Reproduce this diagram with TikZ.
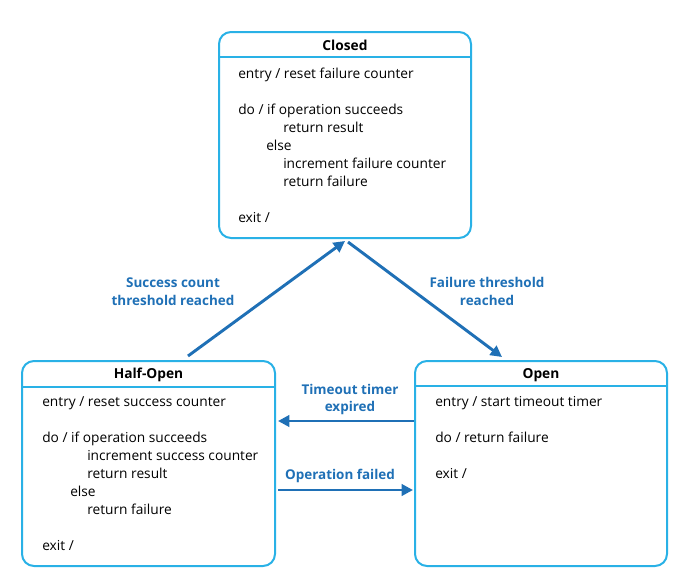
\documentclass[tikz,border=0pt]{standalone}
\usepackage{fontspec}
\setmainfont{Open Sans}
\usetikzlibrary{arrows.meta,calc}
\definecolor{boxc}{RGB}{41,177,230}
\definecolor{arrc}{RGB}{31,112,182}
\begin{document}
\begin{tikzpicture}[x=0.75pt,y=-0.75pt,
 state/.style={draw=boxc,line width=1.5pt,rounded corners=9pt,inner sep=0pt},
 hdr/.style={draw=boxc,line width=1.5pt},
 body/.style={anchor=north west,align=left,inner sep=0pt,font=\fontsize{10.3}{13.5}\selectfont},
 ttl/.style={font=\fontsize{10.3}{12}\selectfont\bfseries,inner sep=0pt},
 trans/.style={draw=arrc,line width=2.2pt,-{Triangle[length=8.5pt,width=8.5pt]}},
 lbl/.style={text=arrc,font=\fontsize{10.1}{13.2}\selectfont\bfseries,align=center,inner sep=0pt}]
\useasboundingbox (0,0) rectangle (683,576);

% states
\node[state,minimum width=189pt,minimum height=154.5pt] (closed) at (345,135) {};
\node[state,minimum width=189.75pt,minimum height=153.75pt] (halfopen) at (148.5,463.5) {};
\node[state,minimum width=189pt,minimum height=153.75pt] (open) at (541,463.5) {};

\draw[hdr] ($(closed.north west)+(0,26)$) -- ($(closed.north east)+(0,26)$);
\draw[hdr] ($(halfopen.north west)+(0,27)$) -- ($(halfopen.north east)+(0,27)$);
\draw[hdr] ($(open.north west)+(0,26)$) -- ($(open.north east)+(0,26)$);

\node[ttl] (closedT) at (345,45.5) {Closed};
\node[ttl] (halfopenT) at (148.5,375) {Half-Open};
\node[ttl] (openT) at (541,375) {Open};

\node[body] (closedB) at (238,67.5) {entry / reset failure counter\\[13.5pt]
do / if operation succeeds\\
\hspace*{33.75pt}return result\\
\hspace*{21pt}else\\
\hspace*{33.75pt}increment failure counter\\
\hspace*{33.75pt}return failure\\[13.5pt]
exit /};

\node[body] (halfopenB) at (42,396.5) {entry / reset success counter\\[13.5pt]
do / if operation succeeds\\
\hspace*{33.75pt}increment success counter\\
\hspace*{33.75pt}return result\\
\hspace*{21pt}else\\
\hspace*{33.75pt}return failure\\[13.5pt]
exit /};

\node[body] (openB) at (435,396.5) {entry / start timeout timer\\[13.5pt]
do / return failure\\[13.5pt]
exit /};

% transitions
\draw[trans] ($(halfopen.north)+(39.5,-4)$) -- ($(closed.south)+(0,2)$);
\draw[trans] ($(closed.south)+(3,3)$) -- ($(open.north)+(-39,-3)$);
\draw[trans] ($(open.west)+(0,-42.5)$) -- ($(halfopen.east)+(2,-42.5)$);
\draw[trans] ($(halfopen.east)+(2,26.5)$) -- ($(open.west)+(-1,26.5)$);

\node[lbl] (l1) at (173,291.5) {Success count\\threshold reached};
\node[lbl] (l2) at (487,291.5) {Failure threshold\\reached};
\node[lbl] (l3) at (350,399.5) {Timeout timer\\expired};
\node[lbl] (l4) at (340,475.5) {Operation failed};
\end{tikzpicture}
\end{document}
